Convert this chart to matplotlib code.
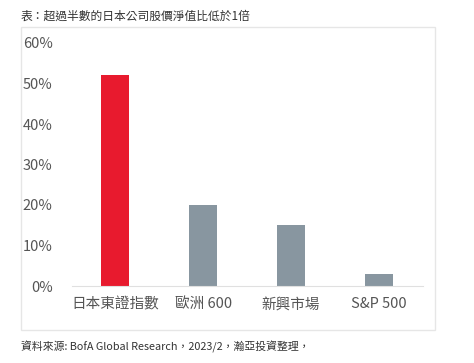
import matplotlib.pyplot as plt
from matplotlib.patches import Rectangle
from matplotlib.ticker import PercentFormatter

plt.rcParams['font.family'] = ['Noto Sans CJK TC', 'DejaVu Sans']

# 資料
categories = ['日本東證指數', '歐洲 600', '新興市場', 'S&P 500']
values = [0.52, 0.20, 0.15, 0.03]
colors = ['#E81A2E', '#8896A0', '#8896A0', '#8896A0']

fig = plt.figure(figsize=(4.74, 3.63), dpi=100)

# 外框
fig.patches.append(Rectangle((21/474, 1-330/363), (435-21)/474, (330-27)/363,
                             transform=fig.transFigure, fill=False,
                             edgecolor='#E6E6E6', linewidth=1))

ax = fig.add_axes([72/474, 1-286/363, (423-72)/474, (286-43)/363])
ax.bar(range(len(categories)), values, width=0.32, color=colors)
ax.set_xlim(-0.49, 3.5)
ax.set_ylim(0, 0.6)
ax.set_yticks([0, 0.1, 0.2, 0.3, 0.4, 0.5, 0.6])
ax.yaxis.set_major_formatter(PercentFormatter(1.0, decimals=0))
ax.set_xticks(range(len(categories)))
ax.set_xticklabels(categories)
ax.tick_params(axis='both', length=0, labelsize=10.5, colors='#555555')
ax.tick_params(axis='y', pad=14)
ax.tick_params(axis='x', pad=8)
for s in ['top', 'right', 'left']:
    ax.spines[s].set_visible(False)
ax.spines['bottom'].set_color('#E0E0E0')

fig.text(21/474, 1-16/363, '表：超過半數的日本公司股價淨值比低於1倍',
         fontsize=8.5, color='#333333', va='center', fontweight='medium')
fig.text(21/474, 1-347/363, '資料來源: BofA Global Research，2023/2，瀚亞投資整理，',
         fontsize=7.8, color='#333333', va='center')

fig.savefig('out.png', dpi=100)
